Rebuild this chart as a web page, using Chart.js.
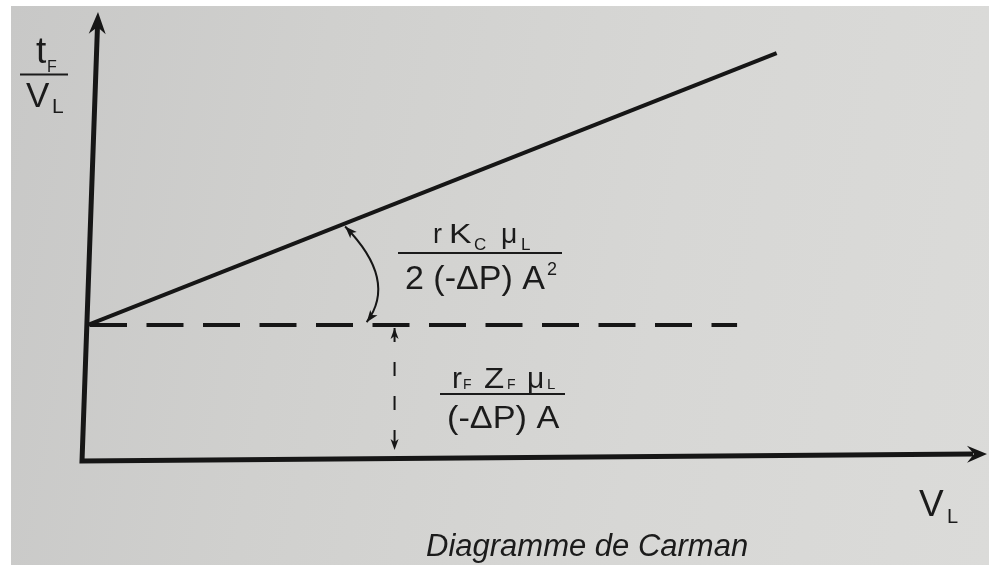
<!DOCTYPE html>
<html lang="fr">
<head>
<meta charset="UTF-8">
<title>Diagramme de Carman</title>
<script src="https://cdn.jsdelivr.net/npm/chart.js"></script>
<style>
    html, body { margin: 0; padding: 0; background: #fff; }
    body { width: 989px; height: 565px; position: relative; overflow: hidden; }
    .papier {
        position: absolute; left: 11px; top: 6px; right: 0; bottom: 0;
        background: linear-gradient(100deg, #c8c8c7 0%, #d0d0ce 30%, #d7d7d5 65%, #dbdbd9 100%);
    }
    #carman { position: absolute; left: 0; top: 0; }
</style>
</head>
<body>
<div class="papier"></div>
<canvas id="carman" width="989" height="565"></canvas>
<script>
// droite t/V = f(V) : ordonnée à l'origine puis pente
const penteX = [0, 76.6];
const penteY = [30, 90.8];
// niveau de l'ordonnée à l'origine (tirets)
const origineX = [0, 72.2];
const origineY = [30, 30];
// cote verticale entre l'axe des V et l'ordonnée à l'origine
const coteX = [34.1, 34.1];
const coteY = [29.3, 2.0];
// flèche courbe de la pente : départ sur la droite, arrivée sur les tirets
const arcX = [28.6, 31.0];
const arcY = [52.0, 30.6];
// bornes des axes
const axeMax = [100, 100];

const encre = '#161616';
const police = '"Liberation Sans", Arial, sans-serif';

const points = (xs, ys) => xs.map((v, i) => ({ x: v, y: ys[i] }));

// pointe de flèche pleine, dos creusé
function tete(ctx, x, y, ang, len, half, creux) {
    ctx.save();
    ctx.translate(x, y);
    ctx.rotate(ang);
    ctx.beginPath();
    ctx.moveTo(0, 0);
    ctx.lineTo(-len, -half);
    ctx.lineTo(-len + creux, 0);
    ctx.lineTo(-len, half);
    ctx.closePath();
    ctx.fill();
    ctx.restore();
}

function ecrire(ctx, s, x, y, size, sx, italic) {
    ctx.save();
    ctx.font = (italic ? 'italic ' : '') + size + 'px ' + police;
    ctx.textBaseline = 'alphabetic';
    ctx.translate(x, y);
    ctx.scale(sx || 1, 1);
    ctx.fillText(s, 0, 0);
    ctx.restore();
}

function barre(ctx, x1, x2, y, w) {
    ctx.fillRect(x1, y - w / 2, x2 - x1, w);
}

const dessin = {
    id: 'dessin',
    beforeDatasetsDraw(chart) {
        const { ctx, scales: { x, y } } = chart;
        const x0 = x.getPixelForValue(0), y0 = y.getPixelForValue(0);
        const xMax = x.getPixelForValue(axeMax[0]), yMax = y.getPixelForValue(axeMax[1]);
        // le tracé d'origine penche légèrement
        const coin = { x: x0 - 6, y: y0 + 2 };
        const haut = { x: x0 + 10, y: yMax };
        const droite = { x: xMax, y: y0 - 5 };
        const angH = Math.atan2(haut.y - coin.y, haut.x - coin.x);
        const angD = Math.atan2(droite.y - coin.y, droite.x - coin.x);
        ctx.save();
        ctx.strokeStyle = encre;
        ctx.fillStyle = encre;
        ctx.lineWidth = 5;
        ctx.lineJoin = 'miter';
        ctx.beginPath();
        ctx.moveTo(haut.x - 14 * Math.cos(angH), haut.y - 14 * Math.sin(angH));
        ctx.lineTo(coin.x, coin.y);
        ctx.lineTo(droite.x - 14 * Math.cos(angD), droite.y - 14 * Math.sin(angD));
        ctx.stroke();
        tete(ctx, haut.x, haut.y, angH, 22, 8.5, 7);
        tete(ctx, droite.x, droite.y, angD, 20, 8.5, 7);
        ctx.restore();
    },
    afterDatasetsDraw(chart) {
        const { ctx, scales: { x, y } } = chart;
        ctx.save();
        ctx.fillStyle = encre;
        ctx.strokeStyle = encre;

        // pointes de la cote verticale
        const cx = x.getPixelForValue(coteX[0]);
        tete(ctx, cx, y.getPixelForValue(coteY[0]), -Math.PI / 2, 11, 4, 3);
        tete(ctx, cx, y.getPixelForValue(coteY[1]), Math.PI / 2, 11, 4, 3);

        // flèche courbe entre la droite et les tirets
        const p0 = { x: x.getPixelForValue(arcX[0]), y: y.getPixelForValue(arcY[0]) };
        const p2 = { x: x.getPixelForValue(arcX[1]), y: y.getPixelForValue(arcY[1]) };
        const p1 = { x: (p0.x + p2.x) / 2 + 42, y: (p0.y + p2.y) / 2 + 6 };
        ctx.lineWidth = 2;
        ctx.beginPath();
        ctx.moveTo(p0.x, p0.y);
        ctx.quadraticCurveTo(p1.x, p1.y, p2.x, p2.y);
        ctx.stroke();
        tete(ctx, p0.x, p0.y, Math.atan2(p0.y - p1.y, p0.x - p1.x), 12, 4.5, 3);
        tete(ctx, p2.x, p2.y, Math.atan2(p2.y - p1.y, p2.x - p1.x), 12, 4.5, 3);

        ctx.fillStyle = '#1b1b1b';

        // tF / VL
        ecrire(ctx, 't', 36, 63, 37);
        ecrire(ctx, 'F', 47, 72, 16);
        barre(ctx, 20, 68, 74.5, 2);
        ecrire(ctx, 'V', 26, 107, 35);
        ecrire(ctx, 'L', 52, 113, 21);

        // pente : r Kc µL / 2 (-ΔP) A²
        ecrire(ctx, 'r', 433, 243, 27);
        ecrire(ctx, 'K', 449, 243, 27, 1.25);
        ecrire(ctx, 'C', 474, 250, 17);
        ecrire(ctx, 'μ', 501, 243, 27, 1.05);
        ecrire(ctx, 'L', 521, 250, 17);
        barre(ctx, 398, 562, 253, 2);
        ecrire(ctx, '2 (-ΔP) A', 405, 289, 34);
        ecrire(ctx, '2', 547, 275, 18);

        // ordonnée à l'origine : rF ZF µL / (-ΔP) A
        ecrire(ctx, 'r', 452, 388, 30);
        ecrire(ctx, 'F', 463, 389, 14);
        ecrire(ctx, 'Z', 484, 388, 30, 1.1);
        ecrire(ctx, 'F', 507, 389, 14);
        ecrire(ctx, 'μ', 527, 388, 30);
        ecrire(ctx, 'L', 547, 389, 15);
        barre(ctx, 440, 565, 394, 2);
        ecrire(ctx, '(-ΔP) A', 447, 428, 32, 1.07);

        // axe des abscisses
        ecrire(ctx, 'V', 919, 516, 37);
        ecrire(ctx, 'L', 947, 523, 20);

        // légende
        ecrire(ctx, 'Diagramme de Carman', 426, 556, 31, 1, true);
        ctx.restore();
    }
};

new Chart(document.getElementById('carman'), {
    type: 'scatter',
    data: {
        datasets: [
            {
                data: points(penteX, penteY),
                showLine: true,
                borderColor: encre,
                borderWidth: 4,
                pointRadius: 0
            },
            {
                data: points(origineX, origineY),
                showLine: true,
                borderColor: encre,
                borderWidth: 4,
                borderDash: [37, 19.5],
                borderDashOffset: -2,
                pointRadius: 0
            },
            {
                data: points(coteX, coteY),
                showLine: true,
                borderColor: encre,
                borderWidth: 2,
                borderDash: [14, 20],
                pointRadius: 0
            }
        ]
    },
    options: {
        responsive: false,
        animation: false,
        events: [],
        layout: { padding: { left: 88, right: 2, top: 12, bottom: 106 } },
        scales: {
            x: { type: 'linear', display: false, min: 0, max: axeMax[0] },
            y: { type: 'linear', display: false, min: 0, max: axeMax[1] }
        },
        plugins: {
            legend: { display: false },
            tooltip: { enabled: false }
        }
    },
    plugins: [dessin]
});
</script>
</body>
</html>
